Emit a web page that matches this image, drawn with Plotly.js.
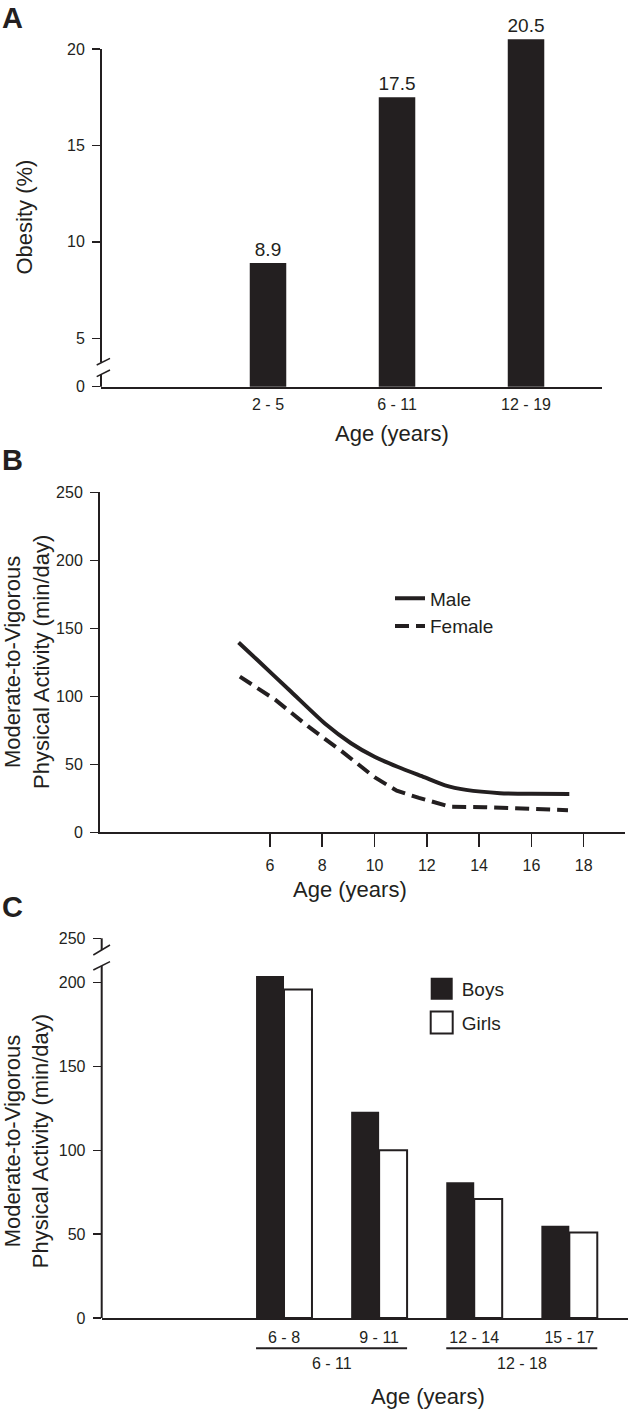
<!DOCTYPE html>
<html>
<head>
<meta charset="utf-8">
<script src="https://cdn.plot.ly/plotly-3.0.1.min.js"></script>
<style>
html,body{margin:0;padding:0;background:#fff;}
#chart{width:628px;height:1411px;}
</style>
</head>
<body>
<div id="chart"></div>
<script>
// ---------- Panel A: obesity prevalence ----------
const obesityAgeGroups = ['2 - 5', '6 - 11', '12 - 19'];
const obesityPct = [8.9, 17.5, 20.5];
const obesityTickText = ['0', '5', '10', '15', '20'];

// ---------- Panel B: MVPA by age (accelerometer curves) ----------
const maleAge   = [4.8, 5.5, 6.8, 8.1, 9.1, 10.0, 10.9, 11.9, 12.7, 13.5, 14.8, 16.0, 17.45];
const maleMvpa  = [139.5, 127, 103.5, 80, 65.5, 55.5, 48, 40.5, 34.5, 31.2, 28.8, 28.3, 28.2];
const femaleAge  = [4.85, 6.2, 7.45, 8.75, 10.0, 10.85, 11.7, 12.45, 12.9, 14.2, 15.8, 17.4];
const femaleMvpa = [114.5, 97.5, 78, 59.5, 40.5, 30.6, 25.3, 20.8, 18.8, 18.5, 17.6, 16.2];
const ageTicksB = [6, 8, 10, 12, 14, 16, 18];
const mvpaTicksB = [0, 50, 100, 150, 200, 250];

// ---------- Panel C: MVPA by age group and sex ----------
const mvpaAgeGroupsC = ['6 - 8', '9 - 11', '12 - 14', '15 - 17'];
const mvpaBoys  = [204, 123, 81, 55];
const mvpaGirls = [196, 100, 71, 51];
const mvpaTickTextC = ['0', '50', '100', '150', '200', '250'];
const broadGroupsC = ['6 - 11', '12 - 18'];

// ---------- styling ----------
const INK = '#231f20';
const FONT = '"Liberation Sans", Arial, Helvetica, sans-serif';
const W = 628, H = 1411;
const px = x => x / W;
const py = y => 1 - y / H;

// broken-axis helpers (value shown as "0" at the axis bottom)
const baseA = 2.4906;          // axis value at A's baseline
const topA = 22.02;
const brokenTopC = 226.5;      // axis value where "250" is drawn in C
const barWA = 0.283;
const barWC = 0.294;

const data = [
  {
    type: 'bar', x: obesityAgeGroups, y: obesityPct, xaxis: 'x', yaxis: 'y',
    width: barWA, marker: {color: INK, line: {width: 0}},
    text: obesityPct.map(v => v.toFixed(1)), textposition: 'outside',
    constraintext: 'none', textfont: {size: 19, color: INK, family: FONT},
    showlegend: false, hoverinfo: 'skip'
  },
  {
    type: 'scatter', mode: 'lines', x: maleAge, y: maleMvpa, xaxis: 'x2', yaxis: 'y2',
    name: 'Male', legend: 'legend',
    line: {color: INK, width: 4, shape: 'spline', smoothing: 0.6}
  },
  {
    type: 'scatter', mode: 'lines', x: femaleAge, y: femaleMvpa, xaxis: 'x2', yaxis: 'y2',
    name: 'Female', legend: 'legend',
    line: {color: INK, width: 4, dash: '14px,7px', shape: 'linear'}
  },
  {
    type: 'bar', x: mvpaAgeGroupsC, y: mvpaBoys, xaxis: 'x3', yaxis: 'y3',
    name: 'Boys', legend: 'legend2', legendgroup: 'boys',
    width: barWC, offset: -barWC,
    marker: {color: INK, line: {color: INK, width: 0}}
  },
  {
    type: 'bar', x: mvpaAgeGroupsC, y: mvpaGirls, xaxis: 'x3', yaxis: 'y3',
    name: 'Girls', legend: 'legend2', legendgroup: 'girls',
    width: barWC, offset: 0,
    marker: {color: '#ffffff', line: {color: INK, width: 2}}
  }
];

const axisCommon = {
  showgrid: false, zeroline: false, color: INK,
  tickfont: {size: 16, color: INK, family: FONT},
  tickcolor: INK, tickwidth: 1.5, linecolor: INK, linewidth: 2, fixedrange: true
};

const lineShape = (x0, y0, x1, y1, w) => ({
  type: 'line', xref: 'paper', yref: 'paper',
  x0: px(x0), y0: py(y0), x1: px(x1), y1: py(y1),
  line: {color: INK, width: w || 2}, layer: 'above'
});

const shapes = [
  // Panel A y-axis with break
  lineShape(101, 49, 101, 362.5, 2),
  lineShape(101, 374, 101, 386.7, 2),
  lineShape(96.7, 365, 110, 358.3, 1.5),
  lineShape(96.7, 376.7, 110, 370, 1.5),
  // Panel C y-axis with break
  lineShape(101.7, 938.3, 101.7, 950, 2),
  lineShape(101.7, 966, 101.7, 1318, 2),
  lineShape(93.3, 955, 110, 945, 1.5),
  lineShape(93.3, 970, 110, 961.7, 1.5),
  // Panel C grouping lines under the tick labels
  {type: 'line', xref: 'x3', yref: 'paper', x0: 0 - barWC, x1: 1 + barWC,
   y0: py(1348.3), y1: py(1348.3), line: {color: INK, width: 2}},
  {type: 'line', xref: 'x3', yref: 'paper', x0: 2 - barWC, x1: 3 + barWC,
   y0: py(1348.3), y1: py(1348.3), line: {color: INK, width: 2}}
];

const ann = (text, x, y, size, extra) => Object.assign({
  text: text, xref: 'paper', yref: 'paper', x: px(x), y: py(y),
  xanchor: 'center', yanchor: 'middle', showarrow: false,
  font: {size: size, color: INK, family: FONT}
}, extra || {});

const annotations = [
  ann('<b>A</b>', 0, 18, 29, {xanchor: 'left'}),
  ann('<b>B</b>', 0, 460, 29, {xanchor: 'left'}),
  ann('<b>C</b>', 0, 906.7, 29, {xanchor: 'left'}),
  ann('Obesity (%)', 24, 217.5, 22, {textangle: -90}),
  ann('Age (years)', 392, 433, 22),
  ann('Moderate-to-Vigorous<br>Physical Activity (min/day)', 27, 662, 22, {textangle: -90}),
  ann('Age (years)', 350, 889, 22),
  ann('Moderate-to-Vigorous<br>Physical Activity (min/day)', 26.5, 1141.7, 22, {textangle: -90}),
  ann('Age (years)', 427.5, 1396.7, 22),
  {text: broadGroupsC[0], xref: 'x3', yref: 'paper', x: 0.5, y: py(1363.3),
   showarrow: false, xanchor: 'center', yanchor: 'middle',
   font: {size: 16, color: INK, family: FONT}},
  {text: broadGroupsC[1], xref: 'x3', yref: 'paper', x: 2.5, y: py(1363.3),
   showarrow: false, xanchor: 'center', yanchor: 'middle',
   font: {size: 16, color: INK, family: FONT}}
];

const layout = {
  width: W, height: H,
  margin: {l: 0, r: 0, t: 0, b: 0, pad: 0},
  paper_bgcolor: '#ffffff', plot_bgcolor: 'rgba(0,0,0,0)',
  font: {family: FONT, color: INK, size: 16},
  barmode: 'overlay',
  xaxis: Object.assign({}, axisCommon, {
    domain: [px(101), px(602)], anchor: 'y', type: 'category',
    range: [-1.2946, 2.589], showline: true, ticks: '', ticklabelstandoff: 2
  }),
  yaxis: Object.assign({}, axisCommon, {
    domain: [py(386.7), py(10)], anchor: 'x', range: [baseA, topA],
    tickvals: [baseA, 5, 10, 15, 20], ticktext: obesityTickText,
    ticks: 'outside', ticklen: 8, showline: false, ticklabelstandoff: 4
  }),
  xaxis2: Object.assign({}, axisCommon, {
    domain: [px(100), px(625)], anchor: 'y2', range: [-0.5, 19.58],
    tickvals: ageTicksB, ticktext: ageTicksB.map(String),
    ticks: 'outside', ticklen: 13, showline: true, ticklabelstandoff: 4
  }),
  yaxis2: Object.assign({}, axisCommon, {
    domain: [py(832.3), py(492.3)], anchor: 'x2', range: [0, 250],
    tickvals: mvpaTicksB, ticktext: mvpaTicksB.map(String),
    ticks: 'outside', ticklen: 8, showline: true, ticklabelstandoff: 4
  }),
  xaxis3: Object.assign({}, axisCommon, {
    domain: [px(101.7), 1], anchor: 'y3', type: 'category',
    range: [-1.917, 3.617], showline: true, ticks: '', ticklabelstandoff: 4
  }),
  yaxis3: Object.assign({}, axisCommon, {
    domain: [py(1318), py(938.3)], anchor: 'x3', range: [0, brokenTopC],
    tickvals: [0, 50, 100, 150, 200, brokenTopC], ticktext: mvpaTickTextC,
    ticks: 'outside', ticklen: 8, showline: false, ticklabelstandoff: 4
  }),
  legend: {
    x: px(390), y: py(579.5), xanchor: 'left', yanchor: 'top',
    font: {size: 19, color: INK, family: FONT}, bgcolor: 'rgba(0,0,0,0)',
    borderwidth: 0, itemwidth: 30, tracegroupgap: 0
  },
  legend2: {
    x: px(421.7), y: py(970), xanchor: 'left', yanchor: 'top',
    font: {size: 19, color: INK, family: FONT}, bgcolor: 'rgba(0,0,0,0)',
    borderwidth: 0, itemwidth: 30, tracegroupgap: 6, traceorder: 'grouped'
  },
  shapes: shapes,
  annotations: annotations
};

Plotly.newPlot('chart', data, layout, {staticPlot: true, displayModeBar: false}).then(gd => {
  // enlarge the bar swatches of the legend to match the figure's boxes
  gd.querySelectorAll('g.legendpoints path').forEach(p => {
    const d = p.getAttribute('d') || '';
    if (d.replace(/\s/g, '') === 'M6,6H-6V-6H6Z') {
      p.setAttribute('d', 'M11,11H-11V-11H11Z');
    }
  });
});
</script>
</body>
</html>
